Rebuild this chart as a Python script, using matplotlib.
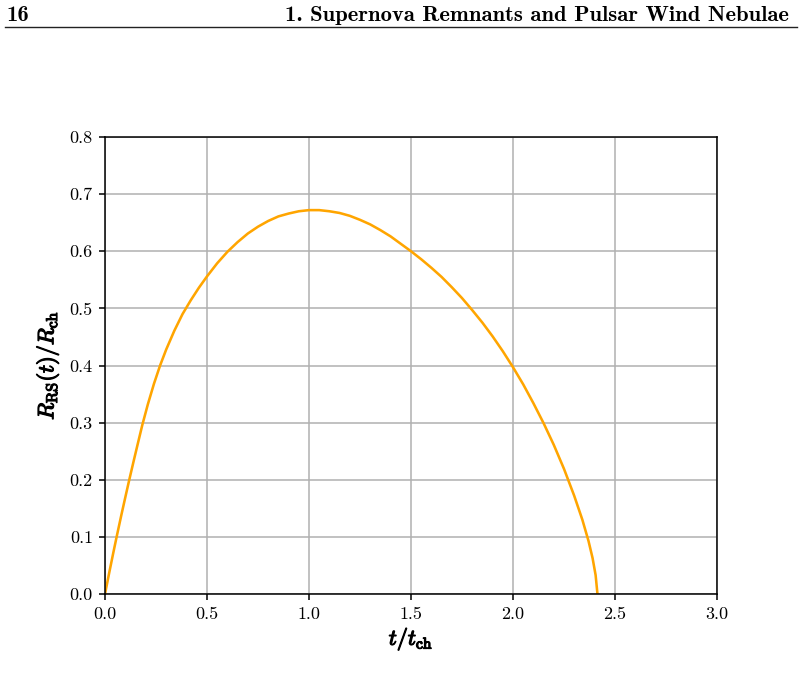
import matplotlib
matplotlib.use("Agg")
import matplotlib.pyplot as plt
import matplotlib.patheffects as pe

plt.rcParams["font.family"] = "serif"
plt.rcParams["font.serif"] = ["cmr10"]
plt.rcParams["mathtext.fontset"] = "cm"
plt.rcParams["axes.formatter.use_mathtext"] = True

# reverse shock radius
t_vals = [0.0, 0.02, 0.04, 0.057, 0.08, 0.10, 0.119, 0.14, 0.16, 0.183,
          0.21, 0.24, 0.27, 0.30, 0.34, 0.38, 0.42, 0.46, 0.50, 0.55,
          0.60, 0.65, 0.70, 0.75, 0.80, 0.85, 0.90, 0.95, 1.00, 1.05,
          1.10, 1.15, 1.20, 1.25, 1.30, 1.35, 1.40, 1.45, 1.50, 1.55,
          1.60, 1.65, 1.70, 1.75, 1.80, 1.85, 1.90, 1.95, 2.00, 2.05,
          2.10, 2.15, 2.20, 2.25, 2.30, 2.34, 2.37, 2.39, 2.405, 2.414]
r_vals = [0.0, 0.036, 0.071, 0.100, 0.138, 0.170, 0.200, 0.232, 0.262, 0.296,
          0.332, 0.368, 0.400, 0.428, 0.461, 0.490, 0.514, 0.536, 0.556, 0.579,
          0.599, 0.616, 0.631, 0.643, 0.653, 0.661, 0.666, 0.670, 0.672, 0.672,
          0.670, 0.667, 0.662, 0.655, 0.647, 0.637, 0.626, 0.613, 0.600, 0.586,
          0.571, 0.555, 0.537, 0.518, 0.497, 0.475, 0.451, 0.425, 0.397, 0.367,
          0.334, 0.299, 0.261, 0.219, 0.172, 0.130, 0.093, 0.063, 0.033, 0.0]

x_ticks = [0.0, 0.5, 1.0, 1.5, 2.0, 2.5, 3.0]
y_ticks = [0.0, 0.1, 0.2, 0.3, 0.4, 0.5, 0.6, 0.7, 0.8]

fig = plt.figure(figsize=(8.02, 6.81), dpi=100)

# page header
fig.text(6/802, 1 - 20.7/681, "16", fontfamily="cmb10", fontsize=16.3,
         ha="left", va="baseline")
fig.text(789/802, 1 - 20.7/681, "1. Supernova Remnants and Pulsar Wind Nebulae",
         fontfamily="cmb10", fontsize=16.3, ha="right", va="baseline")
fig.add_artist(plt.Line2D([5/802, 797/802], [1 - 27/681, 1 - 27/681],
                          color="#222222", lw=1.0, transform=fig.transFigure))

ax = fig.add_axes([105/802, 87/681, 612/802, 457/681])
ax.plot(t_vals, r_vals, color="orange", lw=1.85)
ax.set_xlim(0, 3)
ax.set_ylim(0, 0.8)
ax.set_xticks(x_ticks)
ax.set_yticks(y_ticks)
ax.set_xticklabels(["%.1f" % v for v in x_ticks])
ax.set_yticklabels(["%.1f" % v for v in y_ticks])
ax.grid(True, color="#b0b0b0", lw=1.1)
ax.set_axisbelow(True)
for s in ax.spines.values():
    s.set_linewidth(1.1)
ax.tick_params(labelsize=13, length=4.3, width=1.1, pad=4.5)

# fake bold math labels with a thin stroke
bold = [pe.withStroke(linewidth=0.9, foreground="black")]
ax.set_xlabel(r"$t/t_{\rm ch}$", fontsize=16, labelpad=3, path_effects=bold)
ax.set_ylabel(r"$R_{\rm RS}(t)/R_{\rm ch}$", fontsize=16, labelpad=6,
              path_effects=bold)

fig.savefig("out.png", dpi=100)
